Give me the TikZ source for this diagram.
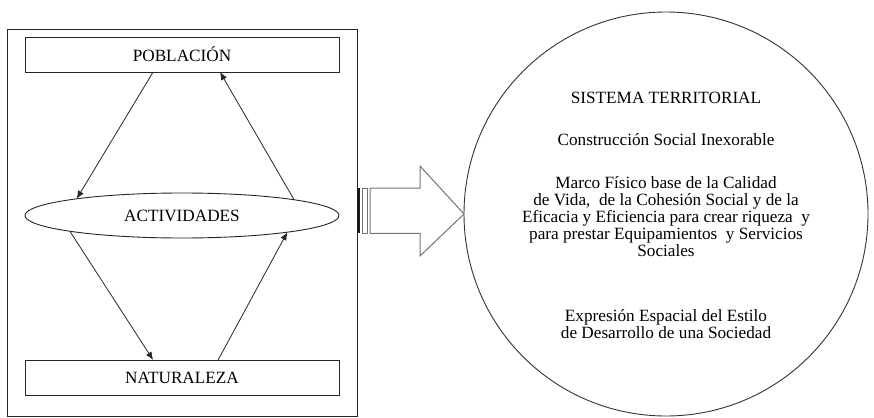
\documentclass[tikz,border=0pt]{standalone}
\usepackage{fontspec}
\setmainfont{Liberation Serif}
\usetikzlibrary{arrows.meta,calc,shapes.geometric}
\begin{document}
\begin{tikzpicture}[x=1pt,y=-1pt,
  every node/.style={font=\fontsize{17.2}{17}\selectfont},
  boxnode/.style={draw=black!85,line width=0.9pt,minimum width=314pt,minimum height=35pt,inner sep=0pt,outer sep=0pt},
  ellnode/.style={ellipse,draw=black!85,line width=0.9pt,minimum width=314pt,minimum height=45pt,inner sep=0pt,outer sep=0pt},
  arr/.style={draw=black!85,line width=0.8pt,-{Latex[length=8pt,width=6.5pt]}},
  garrow/.style={draw=black!55,line width=1pt,fill=white},
  tline/.style={anchor=base,inner sep=0pt}
]
\useasboundingbox (0,0) rectangle (874,417);
% outer frame
\draw[draw=black!85,line width=0.9pt] (7.5,29.5) rectangle (357.7,416.5);
% nodes
\node[boxnode] (pob) at (182,54.5) {POBLACIÓN};
\node[ellnode] (act) at (182,215.5) {ACTIVIDADES};
\node[boxnode] (nat) at (182,377.5) {NATURALEZA};
% connectors
\draw[arr] ($(pob.south west)!0.408!(pob.south east)$) -- (act.171.5);
\draw[arr] (act.8.5) -- ($(pob.south west)!0.621!(pob.south east)$);
\draw[arr] (act.188.5) -- ($(nat.north west)!0.408!(nat.north east)$);
\draw[arr] ($(nat.north west)!0.615!(nat.north east)$) -- (act.351.5);
% circle
\node[circle,draw=black!80,line width=0.9pt,minimum size=404pt,inner sep=0pt,outer sep=0pt] (terr) at (666,214) {};
\node[tline] (t1) at (666,103.7) {SISTEMA TERRITORIAL};
\node[tline] (t2) at (666,145.7) {Construcción Social Inexorable};
\node[tline] (t3) at (666,188.7) {Marco Físico base de la Calidad};
\node[tline] (t4) at (666,205.7) {de Vida,\ \ de la Cohesión Social y de la};
\node[tline] (t5) at (666,222.7) {Eficacia y Eficiencia para crear riqueza\ \ y};
\node[tline] (t6) at (666,239.7) {para prestar Equipamientos\ \ y Servicios};
\node[tline] (t7) at (666,256.7) {Sociales};
\node[tline] (t8) at (666,321.7) {Expresión Espacial del Estilo};
\node[tline] (t9) at (666,338.7) {de Desarrollo de una Sociedad};
% block arrow
\fill[black!90] (356.7,188) rectangle (359.5,233.3);
\draw[garrow] (362.3,188) rectangle (367.7,233.3);
\draw[garrow,line join=miter] (370,188) -- (420,188) -- (420,166) -- (terr.west) -- (420,256) -- (420,233.3) -- (370,233.3) -- cycle;
\end{tikzpicture}
\end{document}
